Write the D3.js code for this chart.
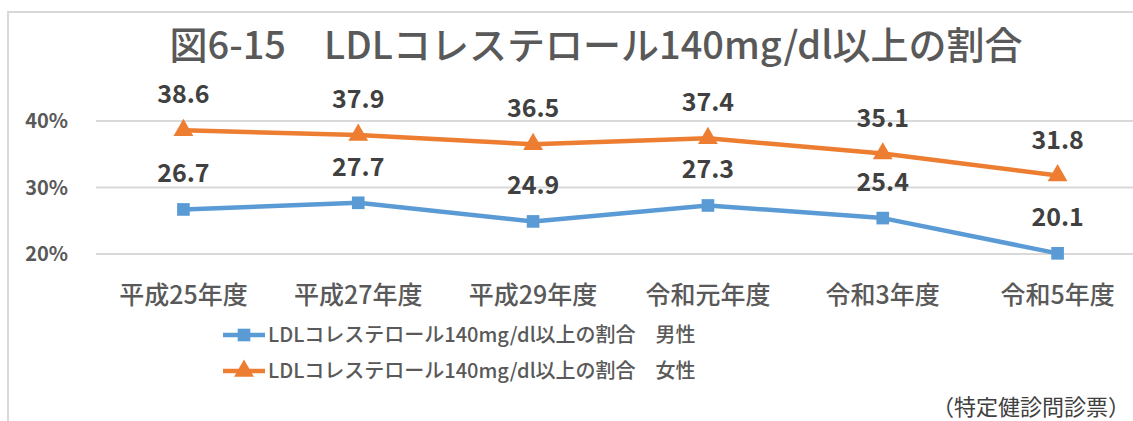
<!DOCTYPE html>
<html><head><meta charset="utf-8">
<script src="https://cdn.jsdelivr.net/npm/d3@7"></script>
<style>body{margin:0;background:#fff}svg{display:block}text{font-family:"Noto Sans CJK JP","Noto Sans",sans-serif}</style>
</head><body><svg id="c" width="1133" height="421"></svg>
<script>
const categories = ["平成25年度","平成27年度","平成29年度","令和元年度","令和3年度","令和5年度"];
const male = [26.7, 27.7, 24.9, 27.3, 25.4, 20.1];
const female = [38.6, 37.9, 36.5, 37.4, 35.1, 31.8];
const yTicks = [20, 30, 40];
const seriesNames = ["LDLコレステロール140mg/dl以上の割合　男性","LDLコレステロール140mg/dl以上の割合　女性"];
const title = "図6-15　LDLコレステロール140mg/dl以上の割合";
const source = "（特定健診問診票）";

const svg = d3.select("#c");
svg.append("rect").attr("x",8).attr("y",12).attr("width",1140).attr("height",420)
  .attr("fill","#fff").attr("stroke","#d9d9d9").attr("stroke-width",2);

const x = d3.scaleBand().domain(categories).range([96,1145]).padding(0);
const y = d3.scaleLinear().domain([20,40]).range([254,121]);
const cx = d => x(d)+x.bandwidth()/2;

svg.append("text").attr("x",596).attr("y",45).attr("dy","0.36em").attr("text-anchor","middle")
  .attr("font-size",38).attr("font-weight",500).attr("fill","#595959").text(title);

// gridlines
svg.append("g").selectAll("line").data(yTicks).join("line")
  .attr("x1",96).attr("x2",1145).attr("y1",d=>y(d)).attr("y2",d=>y(d))
  .attr("stroke","#d9d9d9").attr("stroke-width",2);

// y labels
svg.append("g").selectAll("text").data(yTicks).join("text")
  .attr("x",68).attr("y",d=>y(d)).attr("dy","0.36em").attr("text-anchor","end")
  .attr("font-size",20).attr("font-weight","bold").attr("fill","#595959").text(d=>d+"%");

// x labels
svg.append("g").selectAll("text").data(categories).join("text")
  .attr("x",d=>cx(d)).attr("y",295).attr("dy","0.36em").attr("text-anchor","middle")
  .attr("font-size",25).attr("font-weight",500).attr("fill","#595959").text(d=>d);

const line = d3.line().x((d,i)=>cx(categories[i])).y(d=>y(d));
const series = [
  {vals: male, color:"#5B9BD5", shape:"square"},
  {vals: female, color:"#ED7D31", shape:"triangle"}
];
const sqr = d3.symbol().type(d3.symbolSquare).size(160);
const tri = d3.symbol().type(d3.symbolTriangle).size(170);

series.forEach(s=>{
  svg.append("path").datum(s.vals).attr("d",line).attr("fill","none")
    .attr("stroke",s.color).attr("stroke-width",4.5).attr("stroke-linejoin","round");
  svg.append("g").selectAll("path").data(s.vals).join("path")
    .attr("transform",(d,i)=>`translate(${cx(categories[i])},${y(d)})`)
    .attr("d", s.shape==="square"?sqr():tri()).attr("fill",s.color);
  svg.append("g").selectAll("text").data(s.vals).join("text")
    .attr("x",(d,i)=>cx(categories[i])).attr("y",d=>y(d)-36).attr("dy","0.36em")
    .attr("text-anchor","middle").attr("font-size",25).attr("font-weight","bold")
    .attr("fill","#404040").text(d=>d.toFixed(1));
});

// legend
const lg = svg.append("g");
seriesNames.forEach((n,i)=>{
  const ly = 335 + i*36;
  const s = series[i];
  lg.append("line").attr("x1",223).attr("x2",265).attr("y1",ly).attr("y2",ly)
    .attr("stroke",s.color).attr("stroke-width",4.5);
  lg.append("path").attr("transform",`translate(244,${ly})`)
    .attr("d", s.shape==="square"?sqr():tri()).attr("fill",s.color);
  lg.append("text").attr("x",268).attr("y",ly).attr("dy","0.36em")
    .attr("font-size",20).attr("font-weight",500).attr("fill","#595959").text(n);
});

svg.append("text").attr("x",1130).attr("y",407).attr("dy","0.36em").attr("text-anchor","end")
  .attr("font-size",22).attr("fill","#404040").text(source);
</script></body></html>
